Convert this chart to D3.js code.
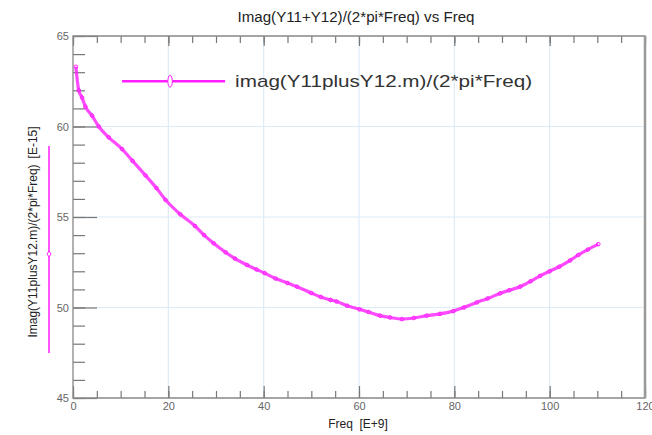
<!DOCTYPE html>
<html>
<head>
<meta charset="utf-8">
<script src="https://cdn.jsdelivr.net/npm/d3@7"></script>
<style>
  body { margin: 0; background: #fff; }
  svg { display: block; font-family: Arial, 'Liberation Sans', sans-serif; }
</style>
</head>
<body>
<svg></svg>
<script>
'use strict';

// Data: frequency [E+9] and value [E-15]
var freq = [0.6, 1.2, 1.9, 2.6, 4, 5.4, 7.5, 10.3, 12.5, 15.2, 17.5, 19.4, 22.5, 25.6,
  27.5, 29.5, 32, 34, 36.5, 38.5, 40.2, 42.5, 45, 47, 50, 52, 54, 55.3, 57.5, 60.1,
  62, 64.4, 66.5, 69, 71.5, 74.2, 77, 79.8, 82, 84.7, 87, 89.6, 91.5, 93.8, 96, 98,
  100, 102, 104.3, 106, 108, 110.2];
var imagVal = [63.3, 62.0, 61.6, 61.1, 60.6, 60.0, 59.4, 58.75, 58.1, 57.3, 56.6, 55.95, 55.15, 54.5,
  54.0, 53.55, 53.05, 52.7, 52.35, 52.1, 51.9, 51.6, 51.35, 51.15, 50.8, 50.58, 50.42, 50.33, 50.1, 49.9,
  49.75, 49.55, 49.45, 49.36, 49.42, 49.55, 49.65, 49.8, 50.0, 50.28, 50.5, 50.78, 50.95, 51.15, 51.45, 51.75,
  52.0, 52.25, 52.6, 52.9, 53.2, 53.5];

var xMajor = [0, 20, 40, 60, 80, 100, 120];
var yMajor = [45, 50, 55, 60, 65];
var titleText = 'Imag(Y11+Y12)/(2*pi*Freq) vs Freq';
var legendText = 'imag(Y11plusY12.m)/(2*pi*Freq)';
var yLabelText = 'Imag(Y11plusY12.m)/(2*pi*Freq)';
var yUnitText = '[E-15]';
var xLabelText = 'Freq\u00a0\u00a0[E+9]';

var lineColor = '#ff1eff';
var canvasWidth = 652;
var canvasHeight = 435;
var margin = { top: 36, right: 7, bottom: 37, left: 73 };
var width = canvasWidth - margin.left - margin.right;
var height = canvasHeight - margin.top - margin.bottom;

var svg = d3.select('svg')
  .attr('width', canvasWidth)
  .attr('height', canvasHeight);

var xScale = d3.scaleLinear().domain([0, 120]).range([0, width]);
var yScale = d3.scaleLinear().domain([45, 65]).range([height, 0]);

var plot = svg.append('g')
  .attr('transform', 'translate(' + margin.left + ',' + margin.top + ')');

// grid lines at major ticks
plot.selectAll('.vgrid').data(xMajor.slice(1, -1))
  .enter().append('line')
  .attr('x1', function(d) { return xScale(d); })
  .attr('x2', function(d) { return xScale(d); })
  .attr('y1', 0).attr('y2', height)
  .attr('stroke', '#dcebf8').attr('stroke-width', 1.2);
plot.selectAll('.hgrid').data(yMajor.slice(1, -1))
  .enter().append('line')
  .attr('x1', 0).attr('x2', width)
  .attr('y1', function(d) { return yScale(d); })
  .attr('y2', function(d) { return yScale(d); })
  .attr('stroke', '#dcebf8').attr('stroke-width', 1.2);

// minor / major ticks, drawn inward
var xMinor = d3.range(0, 121, 5);
var yMinor = d3.range(45, 66, 1);

function styleAxis(g) {
  g.select('.domain').remove();
  g.selectAll('.tick line').attr('stroke', '#777').attr('stroke-width', 1.2);
  g.selectAll('.tick text').attr('fill', '#666').style('font-size', '11px');
}

plot.append('g')
  .attr('transform', 'translate(0,' + height + ')')
  .call(d3.axisBottom(xScale).tickValues(xMinor).tickSize(-7).tickFormat(''))
  .call(styleAxis);
plot.append('g')
  .attr('transform', 'translate(0,' + height + ')')
  .call(d3.axisBottom(xScale).tickValues(xMajor).tickSize(-12).tickPadding(4))
  .call(styleAxis);
plot.append('g')
  .call(d3.axisTop(xScale).tickValues(xMinor).tickSize(-7).tickFormat(''))
  .call(styleAxis);
plot.append('g')
  .call(d3.axisTop(xScale).tickValues(xMajor).tickSize(-10).tickFormat(''))
  .call(styleAxis);
plot.append('g')
  .call(d3.axisLeft(yScale).tickValues(yMinor).tickSize(-12).tickFormat(''))
  .call(styleAxis);
plot.append('g')
  .call(d3.axisLeft(yScale).tickValues(yMajor).tickSize(-24).tickPadding(4))
  .call(styleAxis);

// frame
plot.append('path')
  .attr('d', 'M0,0H' + width + 'V' + height + 'H0Z')
  .attr('fill', 'none').attr('stroke', '#888').attr('stroke-width', 1.3);
plot.append('line')
  .attr('x1', width).attr('x2', width).attr('y1', 0).attr('y2', height)
  .attr('stroke', '#999').attr('stroke-width', 2.5);

// the curve
var points = freq.map(function(f, i) { return [f, imagVal[i]]; });
var line = d3.line()
  .x(function(d) { return xScale(d[0]); })
  .y(function(d) { return yScale(d[1]); })
  .curve(d3.curveMonotoneX);
plot.append('path')
  .datum(points)
  .attr('d', line)
  .attr('fill', 'none')
  .attr('stroke', lineColor)
  .attr('stroke-width', 3.2)
  .attr('stroke-opacity', 0.8);
plot.selectAll('circle').data(points)
  .enter().append('circle')
  .attr('cx', function(d) { return xScale(d[0]); })
  .attr('cy', function(d) { return yScale(d[1]); })
  .attr('r', 1.8)
  .attr('fill', 'none')
  .attr('stroke', lineColor)
  .attr('stroke-width', 1);

// legend
var legend = plot.append('g').attr('transform', 'translate(' + xScale(10.3) + ',' + yScale(62.5) + ')');
legend.append('line')
  .attr('x1', 0).attr('x2', 103).attr('y1', 0).attr('y2', 0)
  .attr('stroke', lineColor).attr('stroke-width', 2.5);
legend.append('ellipse')
  .attr('cx', 48).attr('cy', 0).attr('rx', 2.2).attr('ry', 6)
  .attr('fill', '#fff').attr('stroke', lineColor).attr('stroke-width', 1);
legend.append('text')
  .attr('x', 113).attr('y', 0).attr('dy', '0.35em')
  .attr('fill', '#333')
  .attr('textLength', 297)
  .attr('lengthAdjust', 'spacingAndGlyphs')
  .style('font-size', '17px')
  .text(legendText);

// title
svg.append('text')
  .attr('x', 356).attr('y', 22)
  .attr('text-anchor', 'middle')
  .attr('fill', '#222')
  .attr('textLength', 237)
  .attr('lengthAdjust', 'spacingAndGlyphs')
  .style('font-size', '14px')
  .text(titleText);

// x axis label
svg.append('text')
  .attr('x', 358).attr('y', 428)
  .attr('text-anchor', 'middle')
  .attr('fill', '#222')
  .style('font-size', '12px')
  .text(xLabelText);

// y axis label with series sample
var yl = svg.append('text')
  .attr('transform', 'translate(37,232) rotate(-90)')
  .attr('text-anchor', 'middle')
  .attr('fill', '#222')
  .style('font-size', '12px');
yl.append('tspan').text(yLabelText);
yl.append('tspan').attr('dx', 6).text(yUnitText);

svg.append('line')
  .attr('x1', 49).attr('x2', 49).attr('y1', 146).attr('y2', 353)
  .attr('stroke', lineColor).attr('stroke-width', 1.5);
svg.append('path')
  .attr('d', 'M49,251L51,254L49,257L47,254Z')
  .attr('fill', '#fff').attr('stroke', lineColor).attr('stroke-width', 1);
</script>
</body>
</html>
